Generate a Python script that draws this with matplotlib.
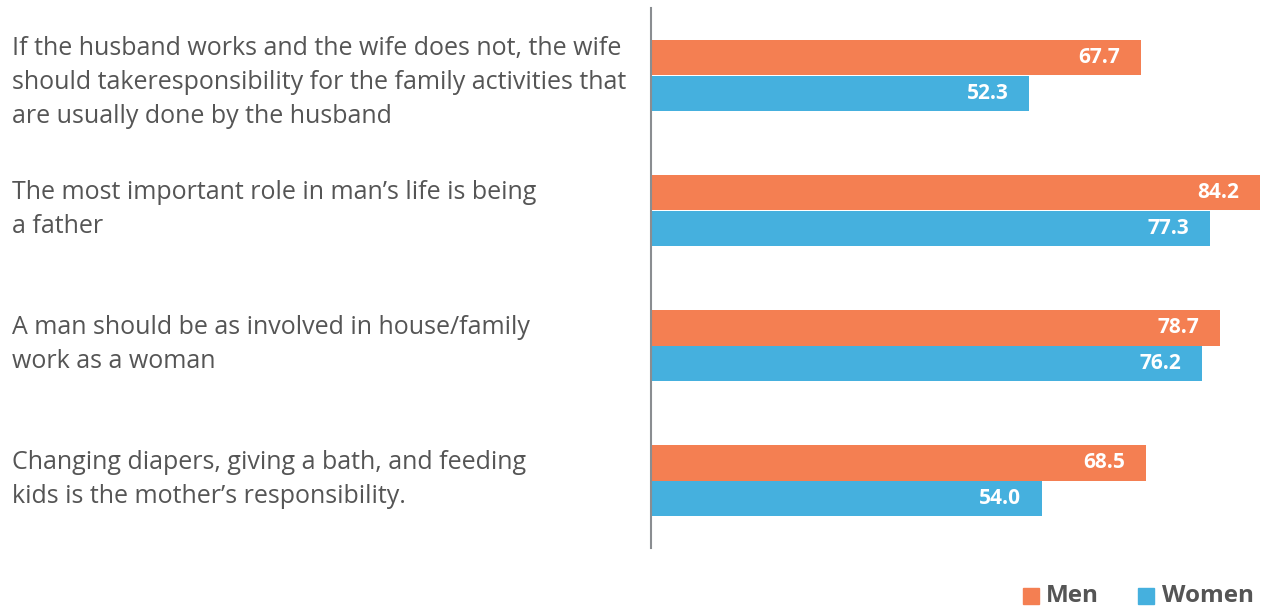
import matplotlib.pyplot as plt
import numpy as np

# Datos
statements = [
    "If the husband works and the wife does not, the wife\nshould takeresponsibility for the family activities that\nare usually done by the husband",
    "The most important role in man\u2019s life is being\na father",
    "A man should be as involved in house/family\nwork as a woman",
    "Changing diapers, giving a bath, and feeding\nkids is the mother\u2019s responsibility.",
]
men = [67.7, 84.2, 78.7, 68.5]
women = [52.3, 77.3, 76.2, 54.0]

orange = "#F47F52"
blue = "#45B0DE"
gray = "#555555"

plt.rcParams['font.family'] = ['Open Sans', 'DejaVu Sans']

fig = plt.figure(figsize=(12.65, 6.09), dpi=100)
W, H = 1265, 609
ax = fig.add_axes([651 / W, 1 - 548 / H, (1260 - 651) / W, (548 - 8) / H])

y = np.arange(len(statements))
h = 0.26
ax.barh(y - h / 2, men, height=h, color=orange)
ax.barh(y + h / 2, women, height=h, color=blue)

for i in range(len(statements)):
    ax.text(men[i] - 2.9, y[i] - h / 2, f"{men[i]:.1f}", ha="right", va="center",
            color="white", fontsize=15, fontweight="bold")
    ax.text(women[i] - 2.9, y[i] + h / 2, f"{women[i]:.1f}", ha="right", va="center",
            color="white", fontsize=15, fontweight="bold")

ax.set_xlim(0, 84.2)
ax.set_ylim(len(statements) - 0.5, -0.5)
for s in ["top", "right", "bottom"]:
    ax.spines[s].set_visible(False)
ax.spines["left"].set_color("#8a8d91")
ax.spines["left"].set_linewidth(1.5)
ax.set_xticks([])
ax.set_yticks([])

# Etiquetas a la izquierda (los bloques de 3 lineas bajan un poco)
for i, txt in enumerate(statements):
    yc = ax.transData.transform((0, y[i]))[1]
    shift = -7 if txt.count("\n") == 2 else 1
    ax.text(12 / W, (yc + shift) / H, txt, transform=fig.transFigure, ha="left", va="center",
            fontsize=18, color=gray, linespacing=1.48)

# Leyenda
fig.patches.append(plt.Rectangle((1023 / W, 1 - 604 / H), 16 / W, 16 / H,
                                 transform=fig.transFigure, color=orange))
fig.text(1046 / W, 1 - 596 / H, "Men", ha="left", va="center", fontsize=17.5,
         fontweight="bold", color=gray)
fig.patches.append(plt.Rectangle((1138 / W, 1 - 604 / H), 16 / W, 16 / H,
                                 transform=fig.transFigure, color=blue))
fig.text(1162 / W, 1 - 596 / H, "Women", ha="left", va="center", fontsize=17.5,
         fontweight="bold", color=gray)

fig.savefig("out.png", dpi=100)
